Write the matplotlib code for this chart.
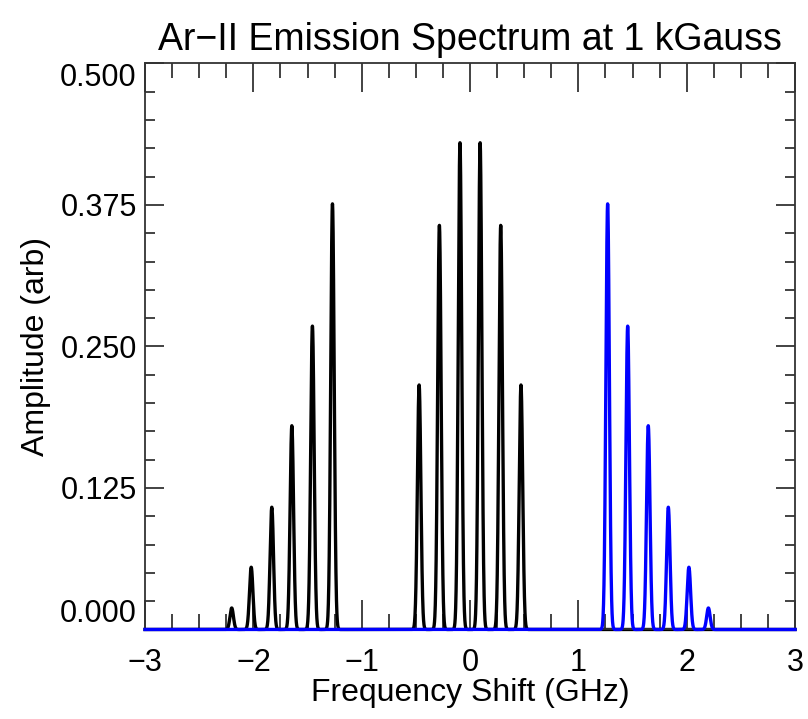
import numpy as np
import matplotlib
matplotlib.use("Agg")
import matplotlib.pyplot as plt

plt.rcParams["font.family"] = ["Liberation Sans", "DejaVu Sans"]

# peak centres (GHz) and amplitudes
black_centres = [-2.20, -2.02, -1.83, -1.645, -1.455, -1.27,
                 -0.47, -0.283, -0.093, 0.093, 0.283, 0.47]
black_heights = [0.019, 0.055, 0.108, 0.180, 0.268, 0.376,
                 0.216, 0.357, 0.430, 0.430, 0.357, 0.216]
blue_centres = [1.27, 1.455, 1.645, 1.83, 2.02, 2.20]
blue_heights = [0.376, 0.268, 0.180, 0.108, 0.055, 0.019]
line_width_ghz = 0.016  # gaussian sigma of each line

x_ticks = [-3, -2, -1, 0, 1, 2, 3]
x_labels = ["\u22123", "\u22122", "\u22121", "0", "1", "2", "3"]
y_ticks = [0.0, 0.125, 0.25, 0.375, 0.5]
y_labels = ["0.000", "0.125", "0.250", "0.375", "0.500"]


def spectrum(freq, centres, heights, sigma):
    out = np.zeros_like(freq)
    for c, h in zip(centres, heights):
        out += h * np.exp(-0.5 * ((freq - c) / sigma) ** 2)
    return out


freq = np.linspace(-3, 3, 6001)

fig = plt.figure(figsize=(8.08, 7.19), dpi=100)
ax = fig.add_axes([0.1795, 0.1245, 0.8045, 0.7872])

ax.plot(freq, spectrum(freq, black_centres, black_heights, line_width_ghz),
        color="black", lw=2.4, clip_on=False)
ax.plot(freq, spectrum(freq, blue_centres, blue_heights, line_width_ghz),
        color="#0000ff", lw=2.4, clip_on=False, zorder=3)

ax.set_xlim(-3, 3)
ax.set_ylim(0, 0.5)

ax.set_xticks(x_ticks)
ax.set_xticklabels(x_labels)
ax.set_xticks(np.arange(-3, 3.01, 0.25), minor=True)
ax.set_yticks(y_ticks)
ax.set_yticklabels(y_labels)
ax.set_yticks(np.arange(0, 0.501, 0.025), minor=True)

ax.tick_params(axis="x", which="major", direction="in", length=21, width=1.2,
               top=True, labelsize=22, pad=13, color="#222222")
ax.tick_params(axis="x", which="minor", direction="in", length=10.5, width=1.2,
               top=True, color="#222222")
ax.tick_params(axis="y", which="major", direction="in", length=14, width=1.2,
               right=True, labelsize=22, pad=6, color="#222222")
ax.tick_params(axis="y", which="minor", direction="in", length=7, width=1.2,
               right=True, color="#222222")

# IDL keeps the end labels inside the axis range
ylabs = ax.get_yticklabels()
ylabs[0].set_va("bottom")
ylabs[-1].set_va("top")

for sp in ax.spines.values():
    sp.set_linewidth(1.3)
    sp.set_color("#333333")

ax.set_xlabel("Frequency Shift (GHz)", fontsize=23, labelpad=0)
ax.set_ylabel("Amplitude (arb)", fontsize=23, labelpad=6)
ax.set_title("Ar\u2212II Emission Spectrum at 1 kGauss", fontsize=27, pad=10)

fig.savefig("out.png", dpi=100)
